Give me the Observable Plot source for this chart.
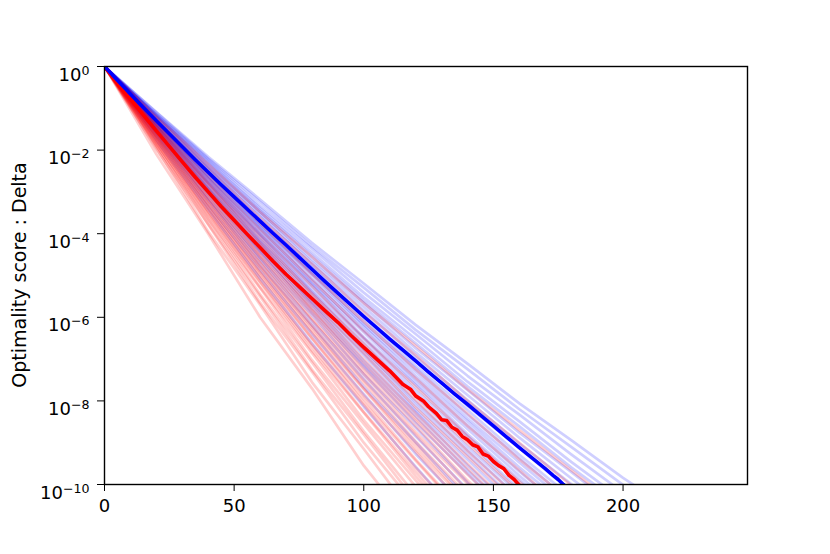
<!DOCTYPE html>
<html>
<head>
<meta charset="utf-8">
<script src="https://cdn.jsdelivr.net/npm/d3@7"></script>
<script src="https://cdn.jsdelivr.net/npm/@observablehq/plot@0.6"></script>
<style>
  html, body { margin: 0; padding: 0; background: #fff; }
  #chart { width: 830px; height: 554px; }
</style>
</head>
<body>
<div id="chart"></div>
<script>
// ---- data (exponents of 10) ----
const xGrid = [0, 20, 40, 60, 80, 100, 120, 140, 160, 180, 200, 220];

const redRuns = [
  [0,-2.1,-4.0,-6.0,-7.7,-9.55,-11.1],
  [0,-1.95,-3.95,-5.7,-7.55,-9.15,-10.8],
  [0,-1.98,-3.78,-5.65,-7.3,-9.0,-10.5],
  [0,-1.88,-3.77,-5.5,-7.25,-8.8,-10.4],
  [0,-1.9,-3.66,-5.45,-7.08,-8.73,-10.25],
  [0,-1.83,-3.65,-5.3,-7.02,-8.55,-10.05,-11.5],
  [0,-1.84,-3.55,-5.28,-6.85,-8.46,-9.9,-11.35],
  [0,-1.77,-3.54,-5.16,-6.8,-8.28,-9.8,-11.2],
  [0,-1.8,-3.47,-5.15,-6.7,-8.27,-9.7,-11.1],
  [0,-1.74,-3.45,-5.05,-6.65,-8.1,-9.6,-10.95],
  [0,-1.73,-3.36,-5.0,-6.5,-8.04,-9.43,-10.8],
  [0,-1.69,-3.38,-4.93,-6.5,-7.95,-9.4,-10.75],
  [0,-1.7,-3.3,-4.9,-6.37,-7.87,-9.22,-10.6],
  [0,-1.65,-3.28,-4.8,-6.32,-7.72,-9.15,-10.45],
  [0,-1.66,-3.22,-4.79,-6.24,-7.7,-9.05,-10.4],
  [0,-1.6,-3.2,-4.7,-6.19,-7.57,-8.97,-10.25],
  [0,-1.62,-3.13,-4.66,-6.07,-7.5,-8.81,-10.15],
  [0,-1.57,-3.12,-4.56,-6.03,-7.37,-8.74,-9.98,-11.2],
  [0,-1.56,-3.04,-4.53,-5.91,-7.3,-8.6,-9.9,-11.1],
  [0,-1.54,-3.0,-4.47,-5.83,-7.22,-8.48,-9.76,-10.95],
  [0,-1.5,-2.99,-4.38,-5.8,-7.1,-8.41,-9.62,-10.85],
  [0,-1.48,-2.95,-4.32,-5.71,-7.0,-8.3,-9.5,-10.7],
  [0,-1.45,-2.9,-4.25,-5.62,-6.87,-8.16,-9.33,-10.5],
  [0,-1.44,-2.81,-4.2,-5.47,-6.78,-7.98,-9.2,-10.35],
  [0,-1.4,-2.79,-4.1,-5.42,-6.63,-7.88,-9.02,-10.18],
  [0,-1.38,-2.7,-4.02,-5.25,-6.5,-7.66,-8.84,-9.93,-11.0],
  [0,-1.34,-2.62,-3.9,-5.1,-6.33,-7.45,-8.6,-9.66,-10.75],
  [0,-1.28,-2.55,-3.75,-4.97,-6.1,-7.25,-8.3,-9.4,-10.4],
  [0,-1.24,-2.42,-3.62,-4.72,-5.87,-6.91,-8.0,-9.0,-10.02,-10.95],
  [0,-1.19,-2.33,-3.48,-4.55,-5.66,-6.68,-7.72,-8.7,-9.66,-10.6]
];

const blueRuns = [
  [0,-1.76,-3.42,-5.07,-6.62,-8.14,-9.57,-10.97],
  [0,-1.67,-3.32,-4.87,-6.4,-7.84,-9.27,-10.58],
  [0,-1.64,-3.2,-4.75,-6.2,-7.66,-8.99,-10.33],
  [0,-1.59,-3.16,-4.63,-6.1,-7.47,-8.85,-10.12],
  [0,-1.57,-3.07,-4.57,-5.95,-7.36,-8.64,-9.95,-11.15],
  [0,-1.52,-3.03,-4.45,-5.87,-7.19,-8.52,-9.74,-10.97],
  [0,-1.52,-2.97,-4.42,-5.76,-7.13,-8.37,-9.66,-10.82],
  [0,-1.5,-2.93,-4.36,-5.68,-7.04,-8.27,-9.54,-10.72],
  [0,-1.46,-2.92,-4.27,-5.65,-6.91,-8.21,-9.4,-10.6],
  [0,-1.44,-2.87,-4.22,-5.58,-6.83,-8.1,-9.28,-10.47],
  [0,-1.42,-2.84,-4.17,-5.5,-6.76,-8.02,-9.18,-10.33],
  [0,-1.43,-2.78,-4.14,-5.41,-6.7,-7.89,-9.09,-10.22],
  [0,-1.39,-2.77,-4.06,-5.38,-6.6,-7.83,-8.96,-10.12],
  [0,-1.37,-2.74,-4.02,-5.31,-6.51,-7.74,-8.86,-9.98,-11.07],
  [0,-1.37,-2.68,-3.99,-5.22,-6.47,-7.62,-8.79,-9.88,-10.95],
  [0,-1.34,-2.67,-3.93,-5.19,-6.36,-7.56,-8.67,-9.79,-10.84],
  [0,-1.32,-2.64,-3.88,-5.13,-6.3,-7.48,-8.58,-9.69,-10.72],
  [0,-1.31,-2.61,-3.84,-5.07,-6.22,-7.4,-8.49,-9.59,-10.6],
  [0,-1.31,-2.56,-3.81,-4.98,-6.18,-7.3,-8.42,-9.47,-10.52],
  [0,-1.3,-2.53,-3.77,-4.95,-6.12,-7.22,-8.33,-9.37,-10.42],
  [0,-1.27,-2.52,-3.71,-4.91,-6.03,-7.16,-8.22,-9.29,-10.3],
  [0,-1.26,-2.46,-3.67,-4.81,-5.95,-7.03,-8.12,-9.13,-10.16],
  [0,-1.22,-2.44,-3.59,-4.75,-5.84,-6.94,-7.98,-9.02,-9.99,-10.97],
  [0,-1.2,-2.4,-3.53,-4.68,-5.75,-6.84,-7.86,-8.88,-9.85,-10.8],
  [0,-1.18,-2.36,-3.48,-4.61,-5.66,-6.74,-7.74,-8.76,-9.7,-10.66],
  [0,-1.18,-2.31,-3.44,-4.52,-5.6,-6.62,-7.65,-8.61,-9.59,-10.5],
  [0,-1.16,-2.27,-3.39,-4.45,-5.52,-6.52,-7.54,-8.49,-9.46,-10.37],
  [0,-1.14,-2.23,-3.33,-4.36,-5.41,-6.4,-7.4,-8.33,-9.28,-10.19],
  [0,-1.1,-2.2,-3.24,-4.3,-5.29,-6.3,-7.24,-8.2,-9.1,-10.01,-10.86],
  [0,-1.09,-2.16,-3.18,-4.22,-5.19,-6.18,-7.11,-8.06,-8.94,-9.84,-10.67]
];

const redMedianX =   [0,5,10,15,20,25,30,35,40,45,50,55,60,65,70,75,80,85,90,95,100,105,110,115,118,120,123,125,128,130,132,134,136,138,140,142,144,146,148,150,152,154,156,158,160,162];
const redMedianExp = [0,-0.4,-0.78,-1.16,-1.54,-1.91,-2.28,-2.65,-3.0,-3.35,-3.68,-4.01,-4.33,-4.66,-4.97,-5.26,-5.55,-5.84,-6.12,-6.43,-6.72,-7.0,-7.28,-7.6,-7.72,-7.88,-8.0,-8.14,-8.3,-8.45,-8.47,-8.63,-8.7,-8.85,-8.93,-9.05,-9.1,-9.27,-9.32,-9.45,-9.55,-9.62,-9.78,-9.88,-10.02,-10.1];

const blueMedianX =   [0,5,10,15,20,25,30,35,40,45,50,55,60,65,70,75,80,85,90,95,100,105,110,115,120,125,130,135,140,145,150,155,160,165,170,173,175,177,179];
const blueMedianExp = [0,-0.33,-0.66,-0.98,-1.3,-1.61,-1.92,-2.23,-2.53,-2.83,-3.12,-3.41,-3.7,-3.99,-4.27,-4.56,-4.85,-5.14,-5.42,-5.7,-5.98,-6.25,-6.52,-6.78,-7.04,-7.31,-7.57,-7.83,-8.08,-8.34,-8.6,-8.86,-9.12,-9.37,-9.62,-9.78,-9.88,-10.0,-10.1];

const xTicks = [0, 50, 100, 150, 200];
const yTickExps = [0, -2, -4, -6, -8, -10];
const yLabel = "Optimality score : Delta";

// ---- build tables ----
const faint = [];
const nRuns = Math.max(redRuns.length, blueRuns.length);
for (let i = 0; i < nRuns; i++) {
  if (blueRuns[i]) blueRuns[i].forEach((e, j) => faint.push({run: "b" + i, x: xGrid[j], y: Math.pow(10, e), c: "blue"}));
  if (redRuns[i]) redRuns[i].forEach((e, j) => faint.push({run: "r" + i, x: xGrid[j], y: Math.pow(10, e), c: "red"}));
}
const redMedian = redMedianX.map((x, i) => ({x, y: Math.pow(10, redMedianExp[i])}));
const blueMedian = blueMedianX.map((x, i) => ({x, y: Math.pow(10, blueMedianExp[i])}));

const chart = Plot.plot({
  width: 830,
  height: 554,
  marginLeft: 104,
  marginRight: 83,
  marginTop: 66,
  marginBottom: 70,
  style: {fontFamily: "DejaVu Sans, sans-serif", fontSize: "18px", color: "black", background: "white"},
  x: {domain: [0, 248], ticks: xTicks, tickSize: 7, tickPadding: 8, label: null, tickFormat: d => String(d)},
  y: {type: "log", domain: [1e-10, 1], ticks: yTickExps.map(e => Math.pow(10, e)), tickSize: 7, tickPadding: 8,
      label: null, tickFormat: v => "10^" + Math.round(Math.log10(v))},
  color: {type: "identity"},
  marks: [
    Plot.line(faint, {x: "x", y: "y", z: "run", stroke: "c", strokeOpacity: 0.19, strokeWidth: 2.7, clip: true, strokeLinejoin: "round"}),
    Plot.line(redMedian, {x: "x", y: "y", stroke: "red", strokeWidth: 3.6, clip: true}),
    Plot.line(blueMedian, {x: "x", y: "y", stroke: "blue", strokeWidth: 3.6, clip: true}),
    Plot.frame({stroke: "black", strokeWidth: 1.4})
  ]
});

document.getElementById("chart").appendChild(chart);

// superscript exponents on the log tick labels
const svg = d3.select(chart.tagName.toLowerCase() === "svg" ? chart : chart.querySelector("svg"));
svg.selectAll('[aria-label="y-axis tick label"] text').each(function() {
  const t = d3.select(this);
  const s = t.text();
  const exp = s.split("^")[1];
  t.text(null).attr("dy", "0.46em");
  t.append("tspan").text("10");
  t.append("tspan").attr("dy", -6).attr("font-size", "12.6px").text(exp.replace("-", "\u2212"));
});
svg.selectAll('[aria-label="x-axis tick label"] text, [aria-label="y-axis tick label"] text').attr("fill", "black");

// y axis title
svg.append("text")
  .attr("transform", "translate(19,275) rotate(-90)")
  .attr("text-anchor", "middle")
  .attr("dominant-baseline", "central")
  .attr("font-family", "DejaVu Sans, sans-serif")
  .attr("font-size", "19px")
  .attr("fill", "black")
  .text(yLabel);
</script>
</body>
</html>
